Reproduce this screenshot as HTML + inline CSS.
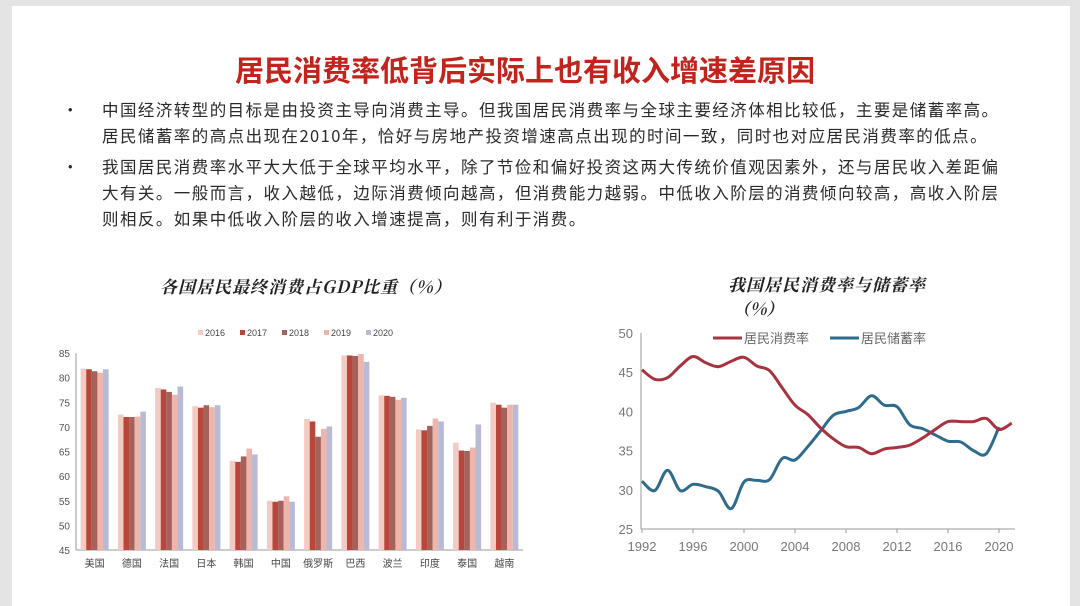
<!DOCTYPE html>
<html><head><meta charset="utf-8">
<style>
body{margin:0;width:1080px;height:583px;overflow:hidden;background:#e4e4e4;font-family:"Liberation Sans","Noto Sans CJK SC",sans-serif;}
#card{position:absolute;left:12px;top:6px;width:1058px;height:600px;background:#fff;}
.t{position:absolute;white-space:nowrap;}
</style></head><body>
<div id="card"></div>
<div class="t" style="left:0;width:1050px;text-align:center;top:48px;font-size:29px;font-weight:bold;color:#c3231d;font-family:'Noto Sans CJK SC',sans-serif;">居民消费率低背后实际上也有收入增速差原因</div>
<div style="font-family:'Noto Sans CJK SC',sans-serif;font-size:16.5px;color:#2a2a2a;">
<div class="t" style="left:62px;top:97px;">•</div>
<div class="t" style="left:102px;top:97px;letter-spacing:1.45px;">中国经济转型的目标是由投资主导向消费主导。但我国居民消费率与全球主要经济体相比较低，主要是储蓄率高。</div>
<div class="t" style="left:102px;top:123px;letter-spacing:1.45px;">居民储蓄率的高点出现在2010年，恰好与房地产投资增速高点出现的时间一致，同时也对应居民消费率的低点。</div>
<div class="t" style="left:62px;top:154px;">•</div>
<div class="t" style="left:102px;top:154px;letter-spacing:1.45px;">我国居民消费率水平大大低于全球平均水平，除了节俭和偏好投资这两大传统价值观因素外，还与居民收入差距偏</div>
<div class="t" style="left:102px;top:180px;letter-spacing:1.45px;">大有关。一般而言，收入越低，边际消费倾向越高，但消费能力越弱。中低收入阶层的消费倾向较高，高收入阶层</div>
<div class="t" style="left:102px;top:206px;letter-spacing:1.45px;">则相反。如果中低收入阶层的收入增速提高，则有利于消费。</div>
</div>
<div class="t" style="left:160px;top:273px;font-size:17px;font-weight:bold;font-style:italic;color:#222;letter-spacing:1px;font-family:'Noto Serif CJK SC',serif;">各国居民最终消费占GDP比重（%）</div>
<div class="t" style="left:728px;top:271px;font-size:17px;font-weight:bold;font-style:italic;color:#222;letter-spacing:1px;font-family:'Noto Serif CJK SC',serif;">我国居民消费率与储蓄率</div>
<div class="t" style="left:733px;top:295px;font-size:17px;font-weight:bold;font-style:italic;color:#222;font-family:'Noto Serif CJK SC',serif;">（%）</div>
<svg id="svg" width="1080" height="583" style="position:absolute;left:0;top:0;"></svg>
<script>
const countries=["美国","德国","法国","日本","韩国","中国","俄罗斯","巴西","波兰","印度","泰国","越南"];
const years=["2016","2017","2018","2019","2020"];
const v2016=[81.8,72.5,77.9,74.2,63.1,55.0,71.6,84.5,76.4,69.5,66.8,74.9];
const v2017=[81.7,72.0,77.6,73.9,62.9,54.8,71.1,84.5,76.3,69.3,65.2,74.5];
const v2018=[81.3,72.0,77.1,74.4,64.0,55.0,68.0,84.4,76.1,70.2,65.1,73.9];
const v2019=[81.0,72.1,76.5,74.0,65.6,55.9,69.6,84.8,75.5,71.7,65.8,74.5];
const v2020=[81.7,73.1,78.2,74.4,64.4,54.8,70.1,83.2,75.9,71.1,70.5,74.5];
const barTicks=[45,50,55,60,65,70,75,80,85];
const lineYears=[1992,1993,1994,1995,1996,1997,1998,1999,2000,2001,2002,2003,2004,2005,2006,2007,2008,2009,2010,2011,2012,2013,2014,2015,2016,2017,2018,2019,2020,2021];
const consumption=[45.3,44.1,44.3,45.8,47.0,46.2,45.7,46.4,46.9,45.8,45.2,43.0,40.8,39.6,37.9,36.5,35.5,35.4,34.6,35.2,35.4,35.7,36.6,37.7,38.7,38.7,38.7,39.1,37.7,38.5];
const savings=[31.1,29.9,32.5,29.9,30.7,30.4,29.8,27.6,31.0,31.2,31.3,34.0,33.8,35.5,37.5,39.5,40.0,40.5,42.0,40.8,40.6,38.3,37.8,37.0,36.2,36.1,35.0,34.6,38.0];
const lineTicksY=[25,30,35,40,45,50];
const lineTicksX=[1992,1996,2000,2004,2008,2012,2016,2020];

const NS="http://www.w3.org/2000/svg";const svg=document.getElementById('svg');
function mk(tag,attrs,parent){const e=document.createElementNS(NS,tag);for(const k in attrs)e.setAttribute(k,attrs[k]);(parent||svg).appendChild(e);return e;}

const bx0=76,bx1=523,by0=550,by1=353;
const byS=v=>by0-(v-45)/(85-45)*(by0-by1);
const gw=(bx1-bx0)/countries.length;
const series=[v2016,v2017,v2018,v2019,v2020];
const colors=["#f2cbc3","#b9463b","#a3625c","#eeb5ab","#b9bbd6"];
const bg=mk('g',{});


barTicks.forEach(t=>{const tx=mk('text',{x:bx0-6,y:byS(t)+4,'text-anchor':'end','font-size':10,fill:'#555'},bg);tx.textContent=t;

});
const ya=mk('line',{x1:bx0,y1:by1,x2:bx0,y2:by0,stroke:'#999'},bg);


const xa=mk('line',{x1:bx0,y1:by0,x2:bx1,y2:by0,stroke:'#999'},bg);


const bw=5.6;
countries.forEach((c,i)=>{const gx=bx0+i*gw+(gw-bw*5)/2;
 series.forEach((s,j)=>{const y=byS(s[i]);const r=mk('rect',{x:gx+j*bw,y:y,width:bw,height:by0-y,fill:colors[j]},bg);
 
 });
 const tx=mk('text',{x:bx0+i*gw+gw/2,y:567,'text-anchor':'middle','font-size':10,fill:'#444'},bg);tx.textContent=c;
 
 
});
years.forEach((y,j)=>{const lx=198+j*42;
 const r=mk('rect',{x:lx,y:330,width:5,height:5,fill:colors[j]},bg);
 
 
 const t=mk('text',{x:lx+7,y:336,'font-size':9,fill:'#444'},bg);t.textContent=y;
 
 });

const lx0=641,lx1=1015,ly0=529,ly1=333;
const lyS=v=>ly0-(v-25)/25*(ly0-ly1);
const lxS=y=>642+(y-1992)/28*(999-642);
const lg=mk('g',{});


lineTicksY.forEach(t=>{const tx=mk('text',{x:lx0-8,y:lyS(t)+5,'text-anchor':'end','font-size':13,fill:'#777'},lg);tx.textContent=t;

});
lineTicksX.forEach(t=>{const tx=mk('text',{x:lxS(t),y:551,'text-anchor':'middle','font-size':13,fill:'#777'},lg);tx.textContent=t;


mk('line',{x1:lxS(t),y1:ly0,x2:lxS(t),y2:ly0+4,stroke:'#999'},lg);});
const la=mk('line',{x1:lx0,y1:ly1,x2:lx0,y2:ly0,stroke:'#999'},lg);


const lb=mk('line',{x1:lx0,y1:ly0,x2:lx1,y2:ly0,stroke:'#999'},lg);


function smooth(pts){let d='M'+pts[0][0]+','+pts[0][1];for(let i=0;i<pts.length-1;i++){const p0=pts[Math.max(0,i-1)],p1=pts[i],p2=pts[i+1],p3=pts[Math.min(pts.length-1,i+2)];
d+=' C'+(p1[0]+(p2[0]-p0[0])/6)+','+(p1[1]+(p2[1]-p0[1])/6)+' '+(p2[0]-(p3[0]-p1[0])/6)+','+(p2[1]-(p3[1]-p1[1])/6)+' '+p2[0]+','+p2[1];}return d;}
const cp=consumption.map((v,i)=>[lxS(lineYears[i]),lyS(v)]);
const sp=savings.map((v,i)=>[lxS(lineYears[i]),lyS(v)]);
const l1=mk('path',{d:smooth(sp),fill:'none',stroke:'#2f6b8c','stroke-width':3},lg);


const l2=mk('path',{d:smooth(cp),fill:'none',stroke:'#a8323f','stroke-width':3},lg);


const e1=mk('line',{x1:713,y1:338,x2:742,y2:338,stroke:'#a8323f','stroke-width':3},lg);


const t1=mk('text',{x:744,y:343,'font-size':13,fill:'#666'},lg);t1.textContent='居民消费率';


const e2=mk('line',{x1:830,y1:338,x2:859,y2:338,stroke:'#2f6b8c','stroke-width':3},lg);


const t2=mk('text',{x:861,y:343,'font-size':13,fill:'#666'},lg);t2.textContent='居民储蓄率';


</script>
</body></html>
